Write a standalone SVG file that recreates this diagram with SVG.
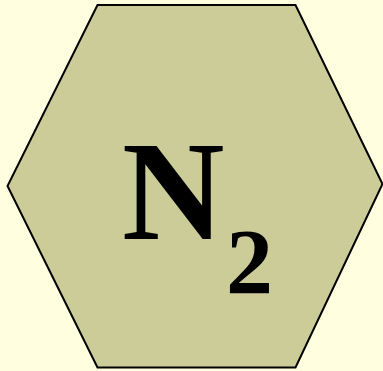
<svg xmlns="http://www.w3.org/2000/svg" width="383" height="371" viewBox="0 0 383 371">
<style>
.hex{fill:#CCCC99;stroke:#000;stroke-width:2}
.t{font-family:"Liberation Serif","Times New Roman",serif;fill:#000;font-weight:bold}
</style>
<rect width="383" height="371" fill="#FFFFE0"/>
<g id="n2">
<polygon class="hex" points="97.5,5 295.5,5 382.5,184 295.5,367.5 97.5,367.5 7.5,186"/>
<text class="t" x="122" y="239" font-size="142">N</text>
<text class="t" x="226" y="293" font-size="94">2</text>
</g>
</svg>
